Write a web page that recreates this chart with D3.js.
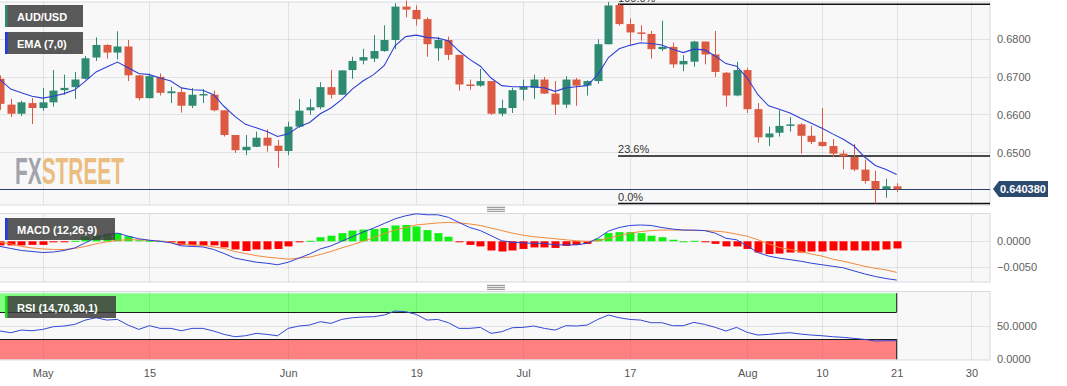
<!DOCTYPE html>
<html>
<head>
<meta charset="utf-8">
<script src="https://cdn.jsdelivr.net/npm/d3@7"></script>
<style>
  body { margin: 0; background: #fff; }
  svg text { font-family: "Liberation Sans", Arial, sans-serif; }
</style>
</head>
<body>
<div id="chart"></div>
<script>
// daily candles, trading-day index; index 0 = May 1 2023, first visible candle is index -4
var firstIndex = -4;
var open = [0.6694,0.6626,0.6602,0.6630,0.6617,0.6632,0.6664,0.6672,0.6694,0.6750,0.6783,0.6763,0.6779,0.6703,0.6643,0.6699,0.6656,0.6659,0.6623,0.6651,0.6652,0.6611,0.6546,0.6506,0.6515,0.6539,0.6518,0.6504,0.6568,0.6611,0.6619,0.6672,0.6652,0.6717,0.6742,0.6747,0.6767,0.6796,0.6884,0.6875,0.6851,0.6774,0.6796,0.6757,0.6679,0.6676,0.6688,0.6602,0.6617,0.6665,0.6670,0.6692,0.6655,0.6626,0.6692,0.6676,0.6688,0.6785,0.6888,0.6838,0.6816,0.6812,0.6772,0.6778,0.6732,0.6739,0.6792,0.6758,0.6710,0.6650,0.6717,0.6614,0.6540,0.6552,0.6571,0.6574,0.6544,0.6528,0.6517,0.6497,0.6488,0.6455,0.6425,0.6404,0.6411];
var high = [0.6703,0.6641,0.6636,0.6643,0.6670,0.6717,0.6705,0.6712,0.6754,0.6803,0.6785,0.6819,0.6796,0.6705,0.6708,0.6708,0.6673,0.6670,0.6670,0.6667,0.6663,0.6611,0.6546,0.6546,0.6555,0.6561,0.6533,0.6581,0.6641,0.6641,0.6685,0.6717,0.6716,0.6752,0.6773,0.6809,0.6835,0.6893,0.6900,0.6887,0.6856,0.6804,0.6805,0.6757,0.6692,0.6720,0.6688,0.6639,0.6670,0.6692,0.6705,0.6699,0.6688,0.6701,0.6696,0.6690,0.6798,0.6896,0.6891,0.6853,0.6835,0.6820,0.6847,0.6789,0.6756,0.6794,0.6792,0.6820,0.6712,0.6739,0.6723,0.6630,0.6568,0.6611,0.6593,0.6577,0.6570,0.6617,0.6535,0.6506,0.6522,0.6481,0.6452,0.6431,0.6419];
var low = [0.6612,0.6593,0.6596,0.6575,0.6610,0.6621,0.6652,0.6641,0.6692,0.6741,0.6747,0.6745,0.6688,0.6637,0.6642,0.6650,0.6630,0.6605,0.6617,0.6630,0.6608,0.6542,0.6499,0.6493,0.6514,0.6502,0.6460,0.6493,0.6565,0.6599,0.6614,0.6642,0.6652,0.6694,0.6732,0.6738,0.6765,0.6772,0.6856,0.6834,0.6752,0.6741,0.6743,0.6663,0.6665,0.6673,0.6599,0.6595,0.6604,0.6637,0.6641,0.6655,0.6599,0.6617,0.6623,0.6650,0.6681,0.6785,0.6834,0.6785,0.6794,0.6747,0.6767,0.6723,0.6714,0.6726,0.6732,0.6699,0.6621,0.6648,0.6604,0.6526,0.6517,0.6542,0.6555,0.6497,0.6522,0.6515,0.6488,0.6456,0.6451,0.6418,0.6366,0.6381,0.6396];
var close = [0.6628,0.6602,0.6632,0.6617,0.6632,0.6663,0.6670,0.6692,0.6748,0.6783,0.6763,0.6779,0.6703,0.6643,0.6701,0.6657,0.6661,0.6623,0.6652,0.6654,0.6611,0.6546,0.6506,0.6515,0.6539,0.6518,0.6504,0.6568,0.6610,0.6619,0.6672,0.6652,0.6716,0.6741,0.6751,0.6767,0.6796,0.6884,0.6876,0.6851,0.6785,0.6796,0.6757,0.6679,0.6675,0.6688,0.6602,0.6617,0.6664,0.6673,0.6692,0.6655,0.6626,0.6692,0.6676,0.6688,0.6785,0.6887,0.6838,0.6816,0.6812,0.6772,0.6778,0.6732,0.6741,0.6792,0.6758,0.6712,0.6650,0.6717,0.6614,0.6540,0.6550,0.6570,0.6574,0.6544,0.6528,0.6517,0.6497,0.6490,0.6455,0.6425,0.6404,0.6411,0.6404];
var ema7 = [0.6692,0.6667,0.6657,0.6648,0.6643,0.6648,0.6655,0.6665,0.6688,0.6712,0.6725,0.6738,0.6723,0.6708,0.6705,0.6696,0.6688,0.6670,0.6665,0.6664,0.6652,0.6621,0.6595,0.6574,0.6565,0.6555,0.6542,0.6549,0.6568,0.6579,0.6602,0.6617,0.6639,0.6667,0.6688,0.6705,0.6729,0.6781,0.6805,0.6809,0.6803,0.6801,0.6794,0.6767,0.6745,0.6727,0.6696,0.6676,0.6673,0.6673,0.6673,0.6670,0.6661,0.6670,0.6673,0.6676,0.6705,0.6750,0.6773,0.6782,0.6789,0.6787,0.6783,0.6772,0.6763,0.6772,0.6770,0.6754,0.6734,0.6727,0.6696,0.6652,0.6623,0.6614,0.6604,0.6590,0.6577,0.6564,0.6549,0.6535,0.6517,0.6488,0.6466,0.6455,0.6442];
var macdLine = [-0.0010,-0.0014,-0.0018,-0.0020,-0.0022,-0.0021,-0.0018,-0.0013,-0.0003,0.0007,0.0013,0.0016,0.0010,0.0005,0.0002,0.0000,-0.0003,-0.0009,-0.0010,-0.0011,-0.0016,-0.0024,-0.0033,-0.0037,-0.0041,-0.0043,-0.0046,-0.0041,-0.0033,-0.0025,-0.0015,-0.0009,0.0000,0.0009,0.0018,0.0026,0.0035,0.0044,0.0050,0.0054,0.0052,0.0052,0.0047,0.0037,0.0027,0.0021,0.0011,0.0001,-0.0002,-0.0003,-0.0004,-0.0004,-0.0007,-0.0007,-0.0007,-0.0004,0.0006,0.0020,0.0027,0.0031,0.0032,0.0031,0.0027,0.0024,0.0022,0.0022,0.0021,0.0016,0.0006,0.0003,-0.0009,-0.0022,-0.0029,-0.0033,-0.0036,-0.0039,-0.0043,-0.0046,-0.0049,-0.0052,-0.0058,-0.0064,-0.0069,-0.0073,-0.0076];
var signalLine = [-0.0002,-0.0005,-0.0010,-0.0013,-0.0015,-0.0016,-0.0016,-0.0014,-0.0010,-0.0005,-0.0001,0.0002,0.0003,0.0003,0.0002,0.0000,-0.0002,-0.0005,-0.0007,-0.0008,-0.0011,-0.0014,-0.0020,-0.0024,-0.0028,-0.0031,-0.0033,-0.0035,-0.0033,-0.0031,-0.0026,-0.0020,-0.0013,-0.0007,0.0000,0.0007,0.0015,0.0022,0.0027,0.0032,0.0034,0.0036,0.0037,0.0036,0.0034,0.0031,0.0026,0.0021,0.0016,0.0012,0.0009,0.0007,0.0005,0.0003,0.0001,0.0000,0.0001,0.0006,0.0011,0.0016,0.0019,0.0021,0.0022,0.0022,0.0022,0.0021,0.0021,0.0020,0.0018,0.0014,0.0010,0.0003,-0.0005,-0.0012,-0.0016,-0.0020,-0.0025,-0.0029,-0.0035,-0.0039,-0.0044,-0.0049,-0.0053,-0.0056,-0.0061];
var macdHist = [-0.0008,-0.0008,-0.0008,-0.0007,-0.0007,-0.0002,-0.0001,0.0001,0.0009,0.0012,0.0014,0.0016,0.0010,0.0002,0.0001,0.0001,-0.0001,-0.0007,-0.0008,-0.0008,-0.0008,-0.0012,-0.0016,-0.0019,-0.0016,-0.0016,-0.0015,-0.0010,-0.0002,0.0001,0.0008,0.0011,0.0016,0.0021,0.0023,0.0024,0.0026,0.0031,0.0032,0.0029,0.0022,0.0016,0.0009,-0.0001,-0.0007,-0.0010,-0.0018,-0.0020,-0.0018,-0.0015,-0.0012,-0.0012,-0.0013,-0.0009,-0.0007,-0.0005,0.0005,0.0016,0.0018,0.0018,0.0016,0.0011,0.0008,0.0003,0.0000,0.0001,-0.0001,-0.0005,-0.0010,-0.0010,-0.0015,-0.0022,-0.0025,-0.0024,-0.0022,-0.0022,-0.0020,-0.0020,-0.0018,-0.0018,-0.0018,-0.0018,-0.0018,-0.0016,-0.0014];
var rsi14 = [41.9,39.4,43.3,42.3,44.3,48.3,49.3,51.7,58.1,61.6,58.1,59.1,50.7,44.3,49.8,45.8,45.8,42.3,45.8,45.8,41.9,36.9,33.5,34.9,38.4,36.9,34.9,45.8,49.3,50.7,55.7,53.2,59.1,61.6,62.6,63.1,65.6,71.5,70.5,66.5,58.1,59.1,54.2,45.8,45.8,47.3,38.4,40.9,46.8,47.3,49.3,45.8,43.3,49.8,49.3,50.7,59.1,65.6,61.6,59.1,58.1,54.2,54.2,49.8,49.8,54.7,51.7,47.3,41.9,47.3,39.9,35.9,36.9,38.4,39.4,37.4,35.9,34.9,33.5,32.5,31.0,29.5,27.0,27.5,27.5];

var tickIndex = [0, 10, 23, 35, 45, 55, 66, 73, 80, 87];
var tickLabels = ["May", "15", "Jun", "19", "Jul", "17", "Aug", "10", "21", "30"];
var priceTicks = [0.65, 0.66, 0.67, 0.68];
var macdTicks = [0, -0.005];
var rsiTicks = [0, 50];
var fibLabels = ["100.0%", "23.6%", "0.0%"];
var fibValues = [0.6890, 0.6491, 0.6366];
var fibStartIndex = 53.9;
var lastPrice = 0.640380;
var rsiUpper = 70, rsiLower = 30;

var W = 1067, H = 386, plotR = 990;
var main = { top: 2, bottom: 205 },
    macdP = { top: 213.5, bottom: 282 },
    rsiP = { top: 291.5, bottom: 360 };

var green = "#2e8a70", red = "#dc5942";

var svg = d3.select("#chart").append("svg")
  .attr("width", W).attr("height", H);

var x = d3.scaleLinear().domain([0, 80]).range([42.7, 896.7]);
var y = d3.scaleLinear().domain([0.63618, 0.68961]).range([main.bottom, main.top]);
var ym = d3.scaleLinear().domain([-0.00798, 0.00545]).range([macdP.bottom, macdP.top]);
var yr = d3.scaleLinear().domain([0, 100]).range([359.3, 291.8]);

var candles = close.map(function(c, k) {
  return { i: firstIndex + k, o: open[k], h: high[k], l: low[k], c: c };
});
function idx(k) { return firstIndex + k; }

// panel backgrounds
[main, macdP, rsiP].forEach(function(p) {
  svg.append("rect")
    .attr("x", -1).attr("y", p.top)
    .attr("width", plotR + 1).attr("height", p.bottom - p.top)
    .attr("fill", "#f8f8f8").attr("stroke", "#d6dbe2");
});

// rsi bands (under grid)
var bandR = x(80);
svg.append("rect").attr("x", 0).attr("y", yr(100) + 1.5).attr("width", bandR).attr("height", yr(rsiUpper) - yr(100) - 1.5)
  .attr("fill", "#80ff80");
svg.append("rect").attr("x", 0).attr("y", yr(rsiLower)).attr("width", bandR).attr("height", yr(0) - yr(rsiLower))
  .attr("fill", "#ff8080");

// grids
var gridColor = "rgba(110,120,140,0.16)";
function vgrid(p) {
  svg.append("g").selectAll("line").data(tickIndex).enter().append("line")
    .attr("x1", function(d) { return Math.round(x(d)) + 0.5; })
    .attr("x2", function(d) { return Math.round(x(d)) + 0.5; })
    .attr("y1", p.top).attr("y2", p.bottom)
    .attr("stroke", gridColor);
}
function hgrid(vals, sc) {
  svg.append("g").selectAll("line").data(vals).enter().append("line")
    .attr("x1", 0).attr("x2", plotR)
    .attr("y1", function(d) { return Math.round(sc(d)) + 0.5; })
    .attr("y2", function(d) { return Math.round(sc(d)) + 0.5; })
    .attr("stroke", gridColor);
}
vgrid(main); vgrid(macdP); vgrid(rsiP);
hgrid(priceTicks, y); hgrid(macdTicks, ym); hgrid([50], yr);

// rsi band edges
var edge = svg.append("g").attr("stroke", "#1a1a1a").attr("fill", "none");
edge.append("line").attr("x1", 0).attr("x2", bandR).attr("y1", Math.round(yr(rsiUpper)) + 0.5).attr("y2", Math.round(yr(rsiUpper)) + 0.5);
edge.append("line").attr("x1", 0).attr("x2", bandR).attr("y1", Math.round(yr(rsiLower)) + 0.5).attr("y2", Math.round(yr(rsiLower)) + 0.5);
edge.append("line").attr("x1", bandR).attr("x2", bandR).attr("y1", yr(100) + 1.5).attr("y2", yr(rsiUpper));
edge.append("line").attr("x1", bandR).attr("x2", bandR).attr("y1", yr(rsiLower)).attr("y2", yr(0));

// watermark
var wm = svg.append("text")
  .attr("x", 15).attr("y", 184)
  .attr("textLength", 109).attr("lengthAdjust", "spacingAndGlyphs")
  .attr("font-family", "'Liberation Sans Narrow', 'Liberation Sans', Arial, sans-serif")
  .attr("font-weight", "bold").attr("font-size", 36);
wm.append("tspan").attr("fill", "#a2a3ab").text("FX");
wm.append("tspan").attr("fill", "#ecbd80").text("STREET");

// fibonacci levels
var fib = svg.append("g");
fib.selectAll("line").data(fibValues).enter().append("line")
  .attr("x1", x(fibStartIndex)).attr("x2", plotR)
  .attr("y1", function(d) { return y(d); }).attr("y2", function(d) { return y(d); })
  .attr("stroke", "#111").attr("stroke-width", 1.5);
fib.selectAll("text").data(fibValues).enter().append("text")
  .attr("x", x(fibStartIndex)).attr("y", function(d) { return y(d) - 2.5; })
  .attr("font-size", 11).attr("fill", "#333")
  .text(function(d, i) { return fibLabels[i]; });

// price line
svg.append("line").attr("x1", 0).attr("x2", plotR)
  .attr("y1", Math.round(y(lastPrice)) + 0.5).attr("y2", Math.round(y(lastPrice)) + 0.5)
  .attr("stroke", "#2b3d6b");

// candles
var cg = svg.append("g");
cg.selectAll("line").data(candles).enter().append("line")
  .attr("x1", function(d) { return Math.round(x(d.i)) + 0.5; })
  .attr("x2", function(d) { return Math.round(x(d.i)) + 0.5; })
  .attr("y1", function(d) { return y(d.h); })
  .attr("y2", function(d) { return y(d.l); })
  .attr("stroke", function(d) { return d.c >= d.o ? green : red; });
cg.selectAll("rect").data(candles).enter().append("rect")
  .attr("x", function(d) { return Math.round(x(d.i)) - 3.5; })
  .attr("width", 8)
  .attr("y", function(d) { return y(Math.max(d.o, d.c)); })
  .attr("height", function(d) { return Math.max(1.5, Math.abs(y(d.o) - y(d.c))); })
  .attr("fill", function(d) { return d.c >= d.o ? green : red; });

// ema
svg.append("path").datum(ema7)
  .attr("d", d3.line().x(function(d, k) { return x(idx(k)); }).y(function(d) { return y(d); }))
  .attr("fill", "none").attr("stroke", "#2f40d4").attr("stroke-width", 1.1);

// macd histogram
svg.append("g").selectAll("rect").data(macdHist).enter().append("rect")
  .attr("x", function(d, k) { return Math.round(x(idx(k))) - 3.5; })
  .attr("width", 8)
  .attr("y", function(d) { return d >= 0 ? ym(d) : ym(0); })
  .attr("height", function(d) { return Math.max(1, Math.abs(ym(d) - ym(0))); })
  .attr("fill", function(d) { return d >= 0 ? "#11ee11" : "#ff0000"; });
var mline = function(sc) {
  return d3.line().x(function(d, k) { return x(idx(k)); }).y(function(d) { return sc(d); });
};
svg.append("path").datum(signalLine).attr("d", mline(ym))
  .attr("fill", "none").attr("stroke", "#f28a3a").attr("stroke-width", 1);
svg.append("path").datum(macdLine).attr("d", mline(ym))
  .attr("fill", "none").attr("stroke", "#2f40d4").attr("stroke-width", 1);

// rsi line
svg.append("path").datum(rsi14).attr("d", mline(yr))
  .attr("fill", "none").attr("stroke", "#3547d6").attr("stroke-width", 1);

// panel handles
[209.3, 287.3].forEach(function(cy) {
  [-2, 0, 2].forEach(function(o) {
    svg.append("line").attr("x1", 487).attr("x2", 505)
      .attr("y1", cy + o).attr("y2", cy + o).attr("stroke", "#888");
  });
});

// right axes
function rightAxis(sc, vals, fmt) {
  var g = svg.append("g").attr("transform", "translate(" + plotR + ",0)")
    .call(d3.axisRight(sc).tickValues(vals).tickSize(0).tickPadding(7).tickFormat(d3.format(fmt)));
  g.select(".domain").remove();
  g.selectAll("text").attr("font-size", 11).attr("fill", "#5e5e5e")
    .attr("font-family", "'Liberation Sans', Arial, sans-serif");
}
rightAxis(y, priceTicks, ".4f");
rightAxis(ym, macdTicks, ".4f");
rightAxis(yr, rsiTicks, ".4f");

// last price tag
var py = y(lastPrice);
svg.append("path")
  .attr("d", "M993," + py + "L999," + (py - 8) + "H1048V" + (py + 8) + "H999Z")
  .attr("fill", "#2c4a6e");
svg.append("text").attr("x", 1000).attr("y", py + 4)
  .attr("font-size", 11).attr("font-weight", "bold").attr("fill", "#fff")
  .text(d3.format(".6f")(lastPrice));

// bottom axis
var bx = svg.append("g").attr("transform", "translate(0,366)")
  .call(d3.axisBottom(x).tickValues(tickIndex).tickSize(0).tickPadding(3)
    .tickFormat(function(d, i) { return tickLabels[i]; }));
bx.select(".domain").remove();
bx.selectAll("text").attr("font-size", 11).attr("fill", "#555")
  .attr("font-family", "'Liberation Sans', Arial, sans-serif");

// legend boxes
function legend(yTop, w, stripe, label) {
  svg.append("rect").attr("x", 5).attr("y", yTop).attr("width", w).attr("height", 22)
    .attr("fill", "rgba(58,58,58,0.84)");
  svg.append("rect").attr("x", 5).attr("y", yTop).attr("width", 2.5).attr("height", 22)
    .attr("fill", stripe);
  svg.append("text").attr("x", 17).attr("y", yTop + 15.5)
    .attr("font-size", 11).attr("font-weight", "bold").attr("fill", "#fff").text(label);
}
legend(5, 78, green, "AUD/USD");
legend(32, 78, "#1e3de8", "EMA (7,0)");
legend(218, 110, "#1e3de8", "MACD (12,26,9)");
legend(296, 111, "#1fe01f", "RSI (14,70,30,1)");
</script>
</body>
</html>
